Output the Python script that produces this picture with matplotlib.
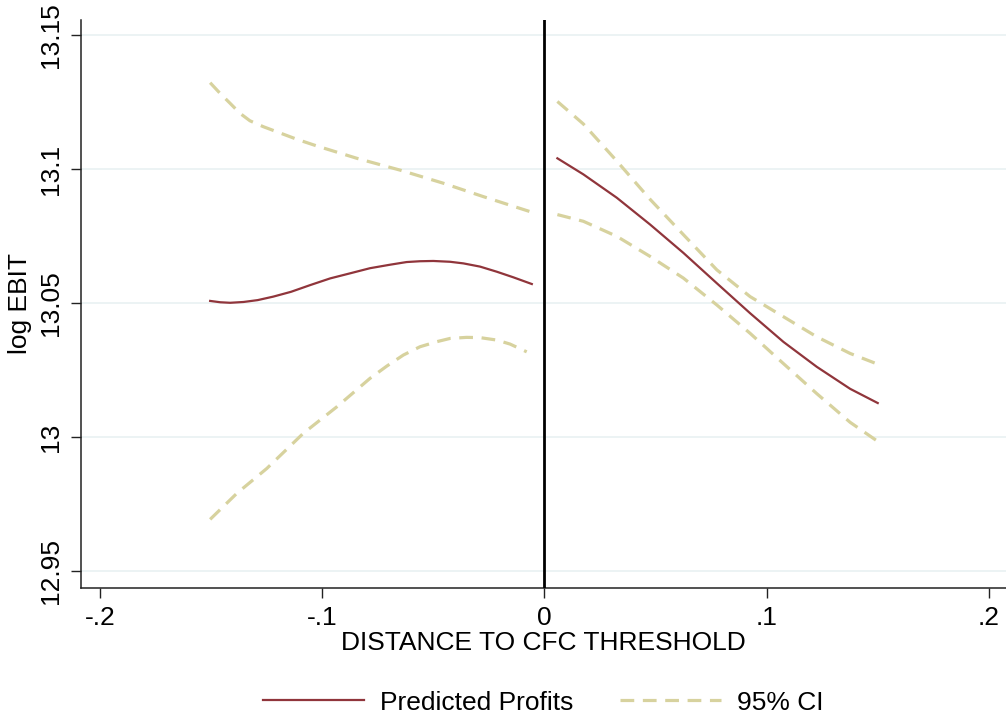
import numpy as np
import matplotlib.pyplot as plt

plt.rcParams['font.family'] = ['Liberation Sans', 'DejaVu Sans']

# left of threshold
x_left = [-0.1504, -0.1459, -0.1414, -0.1354, -0.129, -0.122, -0.114, -0.1054, -0.0964, -0.0874,
          -0.0785, -0.0695, -0.062, -0.056, -0.050, -0.0425, -0.0365, -0.029, -0.0215, -0.014, -0.0057]
fit_left = [13.0509, 13.0504, 13.0502, 13.0505, 13.0512, 13.0525, 13.0543, 13.0568, 13.0593, 13.0612,
            13.0631, 13.0644, 13.0654, 13.0657, 13.0658, 13.0655, 13.0649, 13.0637, 13.0618, 13.0597, 13.0572]
x_left_up = [-0.1504, -0.1459, -0.1414, -0.137, -0.1325, -0.1265, -0.1204, -0.1114, -0.1024,
             -0.0844, -0.065, -0.0455, -0.0275, -0.0057]
upper_left = [13.1323, 13.1283, 13.1246, 13.1209, 13.1181, 13.1159, 13.1140, 13.1112, 13.1087,
              13.1041, 13.0997, 13.0948, 13.0898, 13.0840]
x_left_lo = [-0.1504, -0.1384, -0.1249, -0.1085, -0.0934, -0.0785, -0.0709, -0.0635, -0.056,
             -0.0484, -0.0425, -0.035, -0.029, -0.0215, -0.0155, -0.008]
lower_left = [12.9694, 12.9791, 12.9884, 13.0015, 13.0114, 13.0220, 13.0266, 13.0307, 13.0338,
              13.0357, 13.0369, 13.0373, 13.0372, 13.0363, 13.0348, 13.0319]

# right of threshold
x_right = [0.0058, 0.0175, 0.0325, 0.0475, 0.0625, 0.0775, 0.0925, 0.1075, 0.1225, 0.1375, 0.1499]
fit_right = [13.1041, 13.0981, 13.0894, 13.0794, 13.0688, 13.0575, 13.0463, 13.0356, 13.0263, 13.0181, 13.0128]
upper_right = [13.1253, 13.1169, 13.1031, 13.0888, 13.0756, 13.0625, 13.0525, 13.0450, 13.0375, 13.0313, 13.0273]
lower_right = [13.0831, 13.0806, 13.0750, 13.0675, 13.0594, 13.0494, 13.0388, 13.0275, 13.0163, 13.0056, 12.9985]

xticks = [-0.2, -0.1, 0, 0.1, 0.2]
xtick_labels = ['-.2', '-.1', '0', '.1', '.2']
yticks = [12.95, 13.0, 13.05, 13.1, 13.15]
ytick_labels = ['12.95', '13', '13.05', '13.1', '13.15']

fit_color = '#90353B'
ci_color = '#D7D29E'
fs = 19

fig = plt.figure(figsize=(10.06, 7.19), dpi=100)
ax = fig.add_axes([0.0805, 0.1822, 0.9195, 0.79])

dash = (4.3, 2.7)
ax.plot(x_left, fit_left, color=fit_color, lw=1.6, label='Predicted Profits')
ax.plot(x_left_up, upper_left, color=ci_color, lw=2.3, dashes=dash, label='95% CI')
ax.plot(x_left_lo, lower_left, color=ci_color, lw=2.3, dashes=dash)
ax.plot(x_right, fit_right, color=fit_color, lw=1.6)
ax.plot(x_right, upper_right, color=ci_color, lw=2.3, dashes=dash)
ax.plot(x_right, lower_right, color=ci_color, lw=2.3, dashes=dash)

ax.axvline(0, color='black', lw=2.0, zorder=3)

ax.set_xlim(-0.2085, 0.2076)
ax.set_ylim(12.9438, 13.1557)
ax.set_xticks(xticks)
ax.set_xticklabels(xtick_labels, fontsize=fs)
ax.set_yticks(yticks)
ax.set_yticklabels(ytick_labels, fontsize=fs, rotation=90, va='center')
ax.tick_params(direction='out', length=7, width=1, color='#222222', pad=6)

ax.grid(axis='y', color='#EAF2F3', lw=1.3)
ax.set_axisbelow(True)
for s in ['top', 'right']:
    ax.spines[s].set_visible(False)
for s in ['left', 'bottom']:
    ax.spines[s].set_linewidth(1.1)
    ax.spines[s].set_color('#222222')

ax.set_xlabel('DISTANCE TO CFC THRESHOLD', fontsize=fs, labelpad=1)
ax.set_ylabel('log EBIT', fontsize=fs, labelpad=5)

fig.legend(loc='lower center', bbox_to_anchor=(0.54, -0.027), ncol=2, frameon=False,
           fontsize=fs, handlelength=3.8, handletextpad=0.6, columnspacing=1.8)

fig.savefig('out.png', dpi=100)
